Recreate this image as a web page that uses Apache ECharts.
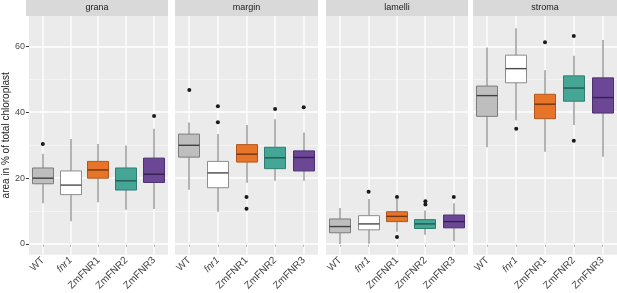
<!DOCTYPE html>
<html>
<head>
    <meta charset="UTF-8">
    <title>chloroplast area</title>
    <script src="https://cdn.jsdelivr.net/npm/echarts@6/dist/echarts.min.js"></script>
    <style>
        html, body { margin: 0; padding: 0; background: #fff; }
        #main { width: 617px; height: 293px; }
    </style>
</head>
<body>
<div id="main"></div>
<script>
    // genotypes on the x axis, facets on top
    var genotypes = ['WT', 'fnr1', 'ZmFNR1', 'ZmFNR2', 'ZmFNR3'];
    var facets = ['grana', 'margin', 'lamelli', 'stroma'];

    // [lower whisker, Q1, median, Q3, upper whisker] per genotype
    var granaBox = [
        [12.4, 18.3, 20.0, 23.1, 27.4],
        [6.9, 15.0, 17.9, 22.2, 31.9],
        [12.7, 20.0, 22.5, 25.1, 30.4],
        [10.4, 16.4, 19.2, 23.1, 29.9],
        [10.6, 18.7, 21.2, 26.1, 35.0]
    ];
    var marginBox = [
        [16.5, 26.4, 30.0, 33.4, 36.9],
        [9.8, 17.1, 21.6, 25.1, 33.4],
        [18.6, 24.9, 27.3, 30.2, 36.2],
        [19.2, 22.9, 26.2, 29.4, 37.9],
        [19.2, 22.2, 26.3, 28.3, 33.9]
    ];
    var lamelliBox = [
        [0.0, 3.4, 5.3, 7.6, 10.9],
        [0.1, 4.3, 6.1, 8.6, 13.7],
        [3.7, 6.8, 8.4, 9.8, 14.0],
        [2.8, 4.7, 6.1, 7.4, 10.2],
        [0.8, 4.9, 6.8, 8.8, 12.4]
    ];
    var stromaBox = [
        [29.4, 38.8, 45.1, 48.0, 59.7],
        [37.5, 49.0, 53.3, 57.4, 65.6],
        [28.0, 38.1, 42.5, 45.5, 52.8],
        [36.2, 43.4, 47.4, 51.1, 57.2],
        [26.5, 39.8, 44.5, 50.5, 62.0]
    ];

    // outliers: [genotype index, value]
    var granaOut = [[0, 30.4], [4, 38.9]];
    var marginOut = [[0, 46.8], [1, 41.9], [1, 37.0], [2, 14.3], [2, 10.7], [3, 41.0], [4, 41.6]];
    var lamelliOut = [[1, 15.9], [2, 14.3], [2, 2.1], [3, 13.0], [3, 12.0], [4, 14.3]];
    var stromaOut = [[1, 35.0], [2, 61.3], [3, 63.2], [3, 31.4]];

    var yTicks = [0, 20, 40, 60];
    var yMinor = [10, 30, 50];

    var boxes = [granaBox, marginBox, lamelliBox, stromaBox];
    var outliers = [granaOut, marginOut, lamelliOut, stromaOut];

    var fills = ['#bebebe', '#ffffff', '#e8742a', '#45a696', '#6b4795'];
    var borders = ['#7c7c7c', '#8c8c8c', '#b2571c', '#2e7d71', '#4b3170'];
    var medians = ['#404040', '#4a4a4a', '#6e3512', '#1f5a50', '#35204f'];

    var panelLeft = [26, 175, 326, 473];
    var panelWidth = [142, 143, 142, 144];
    var panelTop = 16;
    var panelHeight = 239;
    var yMin = -3.25, yMax = 69.3;

    var grids = [], xAxes = [], yAxes = [], series = [], graphics = [];

    function crisp(v) { return Math.round(v - 0.5) + 0.5; }

    // horizontal grid lines: [value, isMajor]
    var hLines = yTicks.map(function (v) { return [0, v, 1]; })
        .concat(yMinor.map(function (v) { return [0, v, 0]; }));
    // vertical grid lines at each genotype
    var vLines = genotypes.map(function (g, k) { return [k, 0]; });

    facets.forEach(function (name, i) {
        grids.push({
            left: panelLeft[i], top: panelTop, width: panelWidth[i], height: panelHeight,
            show: true, backgroundColor: '#ebebeb', borderWidth: 0
        });
        xAxes.push({
            type: 'category', gridIndex: i, data: genotypes,
            axisLine: {show: false},
            axisTick: {show: true, alignWithLabel: true, length: 3, lineStyle: {color: '#333'}},
            splitLine: {show: false},
            axisLabel: {
                rotate: 45, margin: 4, fontSize: 10, color: '#444',
                fontFamily: 'Liberation Sans',
                formatter: function (v) { return v === 'fnr1' ? '{i|' + v + '}' : v; },
                rich: {i: {fontStyle: 'italic', fontSize: 10, color: '#444', fontFamily: 'Liberation Sans'}}
            }
        });
        yAxes.push({
            type: 'value', gridIndex: i, min: yMin, max: yMax,
            name: i === 0 ? 'area in % of total chloroplast' : '',
            nameLocation: 'middle', nameGap: 16, nameRotate: 90,
            nameTextStyle: {fontSize: 10, color: '#1a1a1a', fontFamily: 'Liberation Sans'},
            axisLine: {show: false},
            axisTick: {show: i === 0, length: 3, lineStyle: {color: '#333'}, customValues: yTicks},
            axisLabel: {
                show: i === 0, margin: 4, fontSize: 9, color: '#4d4d4d',
                fontFamily: 'Liberation Sans', customValues: yTicks
            },
            splitLine: {show: false}
        });

        // grid lines drawn through the axes' scales, under everything else
        series.push({
            type: 'custom', xAxisIndex: i, yAxisIndex: i, z: 1, silent: true,
            data: hLines,
            renderItem: function (params, api) {
                var cs = params.coordSys;
                var y = api.coord([0, api.value(1)])[1];
                var major = api.value(2) === 1;
                y = major ? Math.round(y) : crisp(y);
                return {
                    type: 'line',
                    shape: {x1: cs.x, y1: y, x2: cs.x + cs.width, y2: y},
                    style: {stroke: major ? '#ffffff' : '#f6f6f6', lineWidth: major ? 1.3 : 0.8}
                };
            }
        });
        series.push({
            type: 'custom', xAxisIndex: i, yAxisIndex: i, z: 1, silent: true,
            data: vLines,
            renderItem: function (params, api) {
                var cs = params.coordSys;
                var x = Math.round(api.coord([api.value(0), 0])[0]);
                return {
                    type: 'line',
                    shape: {x1: x, y1: cs.y, x2: x, y2: cs.y + cs.height},
                    style: {stroke: '#ffffff', lineWidth: 1.3}
                };
            }
        });

        series.push({
            type: 'scatter', xAxisIndex: i, yAxisIndex: i, z: 2,
            symbolSize: 4, itemStyle: {color: '#1a1a1a', opacity: 1},
            data: outliers[i]
        });

        series.push({
            type: 'custom', xAxisIndex: i, yAxisIndex: i, z: 3,
            data: boxes[i].map(function (b, k) { return [k].concat(b); }),
            encode: {x: 0, y: [1, 2, 3, 4, 5]},
            renderItem: function (params, api) {
                var k = api.value(0);
                var bw = Math.round(api.size([1, 0])[0] * 0.74);
                var lo = api.coord([k, api.value(1)]);
                var q1 = api.coord([k, api.value(2)]);
                var md = api.coord([k, api.value(3)]);
                var q3 = api.coord([k, api.value(4)]);
                var hi = api.coord([k, api.value(5)]);
                var x = Math.round(lo[0]);
                var bx = crisp(x - bw / 2);
                var wStyle = {stroke: '#7a7a7a', lineWidth: 1.1};
                return {
                    type: 'group',
                    children: [
                        {type: 'line', shape: {x1: x, y1: hi[1], x2: x, y2: q3[1]}, style: wStyle},
                        {type: 'line', shape: {x1: x, y1: q1[1], x2: x, y2: lo[1]}, style: wStyle},
                        {
                            type: 'rect',
                            shape: {x: bx, y: q3[1], width: bw, height: q1[1] - q3[1]},
                            style: {fill: fills[k], stroke: borders[k], lineWidth: 1}
                        },
                        {
                            type: 'line',
                            shape: {x1: bx, y1: md[1], x2: bx + bw, y2: md[1]},
                            style: {stroke: medians[k], lineWidth: 1.4}
                        }
                    ]
                };
            }
        });

        graphics.push({
            type: 'rect', left: panelLeft[i], top: 0, z: 10,
            shape: {width: panelWidth[i], height: panelTop},
            style: {fill: '#d9d9d9'}
        });
        graphics.push({
            type: 'text', x: panelLeft[i] + panelWidth[i] / 2, y: panelTop / 2, z: 11,
            style: {
                text: name, fill: '#1a1a1a', fontSize: 9, fontFamily: 'Liberation Sans',
                align: 'center', verticalAlign: 'middle'
            }
        });
    });

    var myChart = echarts.init(document.getElementById('main'));
    myChart.setOption({
        animation: false,
        grid: grids,
        xAxis: xAxes,
        yAxis: yAxes,
        series: series,
        graphic: graphics
    });
</script>
</body>
</html>
